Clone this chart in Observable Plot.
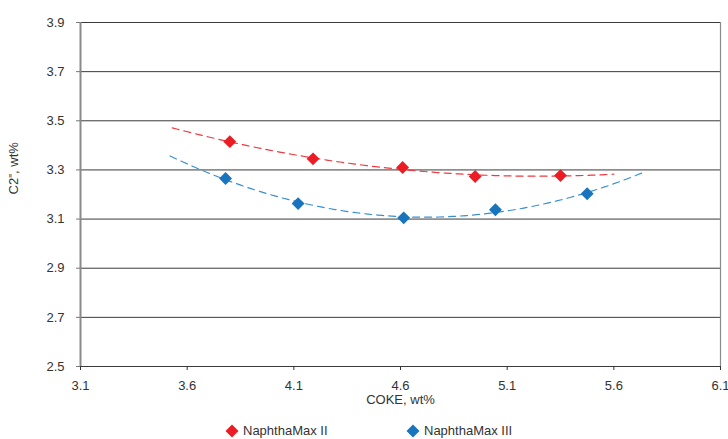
<!DOCTYPE html>
<html>
<head>
<meta charset="utf-8">
<script src="https://cdn.jsdelivr.net/npm/d3@7"></script>
<script src="https://cdn.jsdelivr.net/npm/@observablehq/plot@0.6"></script>
<style>
  html, body { margin: 0; padding: 0; background: #fff; }
  body { width: 728px; height: 439px; overflow: hidden; font-family: "Liberation Sans", Arial, sans-serif; }
  #legend { position: relative; height: 21px; font-size: 13px; color: #333; }
  .item { position: absolute; top: 6px; display: flex; align-items: center; line-height: 14px; }
  .item svg { margin-right: 4px; }
</style>
</head>
<body>
<div id="chart"></div>
<div id="legend"></div>
<script>
// Data
const seriesNames = ["NaphthaMax II", "NaphthaMax III"];
const seriesColors = ["#ec1c24", "#1874bd"];
const trendColors = ["#ee3a40", "#3a8fd3"];
const nm2Coke = [3.80, 4.19, 4.61, 4.95, 5.35];
const nm2C2 = [3.415, 3.345, 3.31, 3.273, 3.277];
const nm3Coke = [3.78, 4.12, 4.615, 5.045, 5.475];
const nm3C2 = [3.265, 3.163, 3.105, 3.138, 3.203];
// Trendline extents (Excel-style forecast range)
const nm2TrendRange = [3.53, 5.60];
const nm3TrendRange = [3.52, 5.73];
const xTicks = [3.1, 3.6, 4.1, 4.6, 5.1, 5.6, 6.1];
const yTicks = [2.5, 2.7, 2.9, 3.1, 3.3, 3.5, 3.7, 3.9];
const xLabel = "COKE, wt%";
const yLabel = "C2\u207C, wt%";

// Build tables
const points = [
  ...nm2Coke.map((x, i) => ({series: seriesNames[0], x, y: nm2C2[i]})),
  ...nm3Coke.map((x, i) => ({series: seriesNames[1], x, y: nm3C2[i]}))
];

// Quadratic least-squares fit (polynomial trendline)
function quadFit(xs, ys) {
  const n = xs.length;
  let s = [0,0,0,0,0], t = [0,0,0];
  for (let i = 0; i < n; i++) {
    const x = xs[i], y = ys[i];
    for (let k = 0; k <= 4; k++) s[k] += Math.pow(x, k);
    for (let k = 0; k <= 2; k++) t[k] += y * Math.pow(x, k);
  }
  const A = [[s[0], s[1], s[2], t[0]], [s[1], s[2], s[3], t[1]], [s[2], s[3], s[4], t[2]]];
  for (let c = 0; c < 3; c++) {
    for (let r = c + 1; r < 3; r++) {
      const f = A[r][c] / A[c][c];
      for (let k = c; k < 4; k++) A[r][k] -= f * A[c][k];
    }
  }
  const b = [0,0,0];
  for (let r = 2; r >= 0; r--) {
    let v = A[r][3];
    for (let k = r + 1; k < 3; k++) v -= A[r][k] * b[k];
    b[r] = v / A[r][r];
  }
  return x => b[0] + b[1] * x + b[2] * x * x;
}
function trend(xs, ys, range, name) {
  const f = quadFit(xs, ys);
  return d3.range(0, 101).map(i => {
    const x = range[0] + (range[1] - range[0]) * i / 100;
    return {series: name, x, y: f(x)};
  });
}
const trends = [
  ...trend(nm2Coke, nm2C2, nm2TrendRange, seriesNames[0]),
  ...trend(nm3Coke, nm3C2, nm3TrendRange, seriesNames[1])
];

const chart = Plot.plot({
  width: 728,
  height: 418,
  marginLeft: 80,
  marginRight: 8,
  marginTop: 22,
  marginBottom: 52,
  style: {fontFamily: "'Liberation Sans', Arial, sans-serif", fontSize: "13px", color: "#333"},
  x: {domain: [3.1, 6.1]},
  y: {domain: [2.5, 3.9]},
  color: {domain: seriesNames, range: seriesColors},
  marks: [
    Plot.gridY(yTicks, {stroke: "#3a3a3a", strokeOpacity: 1, strokeWidth: 1}),
    Plot.ruleX([6.1], {stroke: "#8a8a8a", strokeWidth: 1.2}),
    Plot.ruleY([2.5], {stroke: "#3a3a3a", strokeWidth: 1}),
    Plot.ruleX([3.1], {stroke: "#8a8a8a", strokeWidth: 2}),
    Plot.axisY({ticks: yTicks, tickFormat: d => d.toFixed(1), tickSize: 4, tickPadding: 12, label: null, stroke: "#777", fill: "#333", fontSize: 13}),
    Plot.axisX({ticks: xTicks, tickFormat: d => d.toFixed(1), tickSize: 4, tickPadding: 10, label: null, stroke: "#333", fill: "#333", fontSize: 13}),
    Plot.text([xLabel], {frameAnchor: "bottom", dy: 37, fill: "#333", fontSize: 13}),
    Plot.text([yLabel], {frameAnchor: "left", dx: -67, rotate: -90, fill: "#333", fontSize: 13}),
    Plot.line(trends, {x: "x", y: "y", z: "series", stroke: d => d.series === seriesNames[0] ? trendColors[0] : trendColors[1], strokeWidth: 1.2, strokeDasharray: "7,5"}),
    Plot.dot(points, {x: "x", y: "y", symbol: "diamond2", r: 5.8, fill: "series", stroke: "none"})
  ]
});
document.getElementById("chart").appendChild(chart);

// Legend below
const legend = document.getElementById("legend");
const legendX = [225, 406];
seriesNames.forEach((name, i) => {
  const item = document.createElement("div");
  item.className = "item";
  item.style.left = legendX[i] + "px";
  item.innerHTML = `<svg width="14" height="14" viewBox="-7 -7 14 14"><path d="M0,-6.5L6.5,0L0,6.5L-6.5,0Z" fill="${seriesColors[i]}"/></svg><span>${name}</span>`;
  legend.appendChild(item);
});
</script>
</body>
</html>
